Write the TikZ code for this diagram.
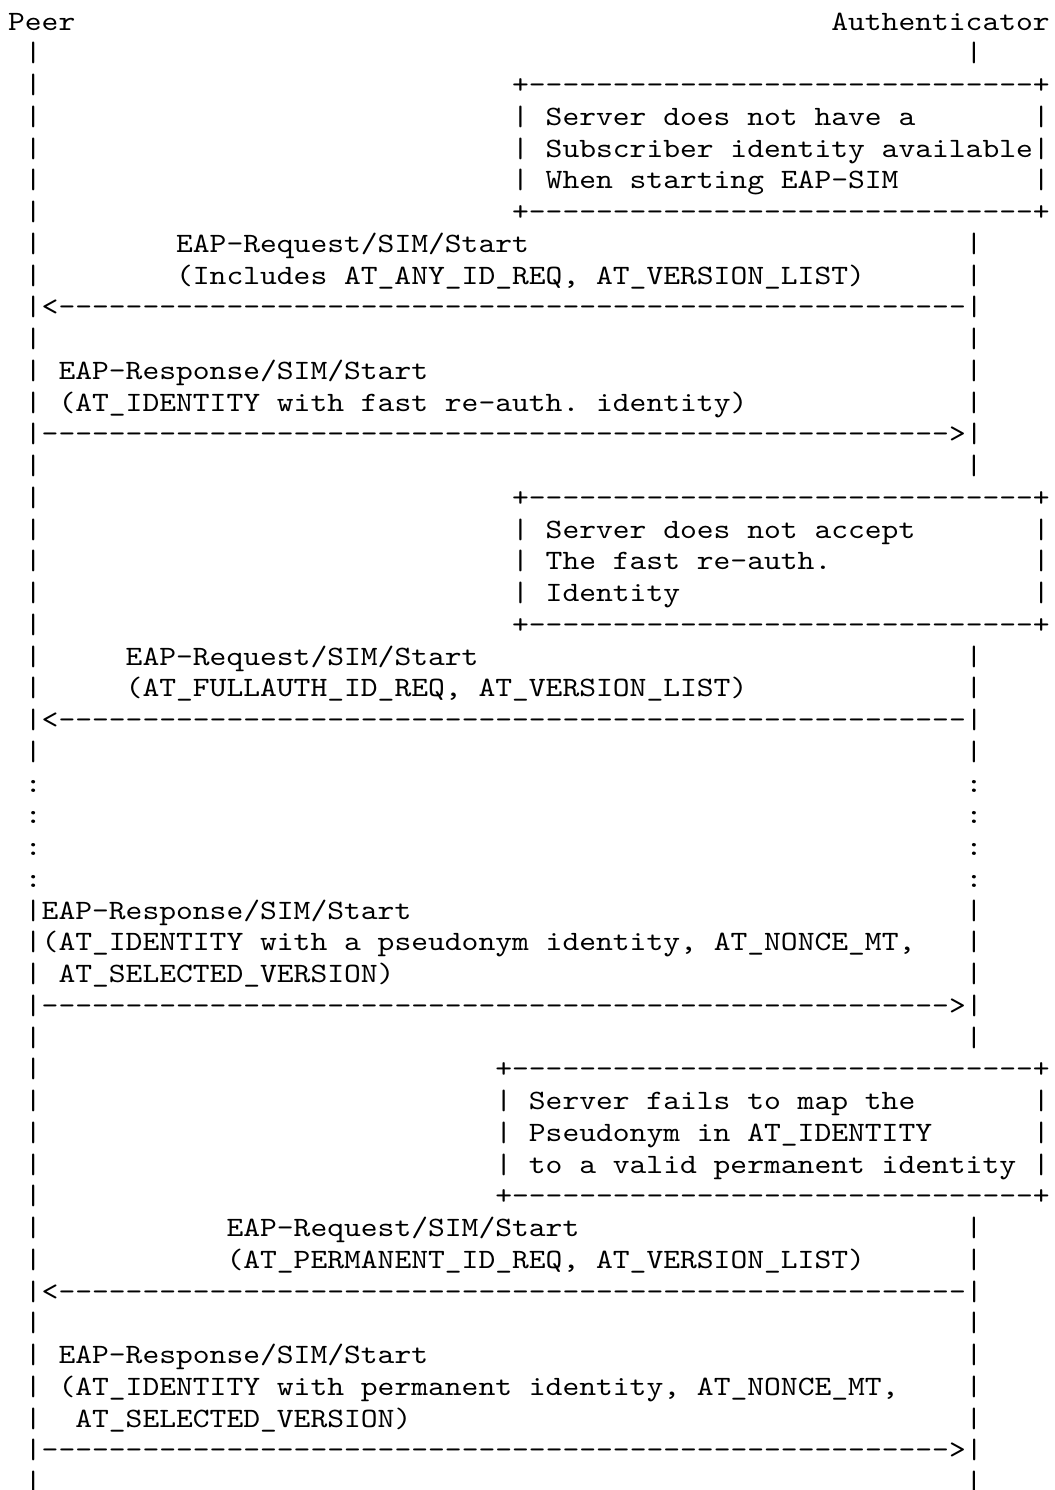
\documentclass[tikz,border=0pt]{standalone}
\usepackage{fontspec}
\setmonofont{lmmono10-regular.otf}[FakeStretch=1.143]
\newcommand\frag[4]{\node[txt] (#1) at ({8.1+16.8*#3},{-(30+31.75*#2)}) {#4};}
\newcommand\lifes[2]{\node[txt] (#1a) at ({8.1+16.8*1},{-(30+31.75*#2)}) {|};\node[txt] (#1b) at ({8.1+16.8*57},{-(30+31.75*#2)}) {|};}
\newcommand\gapdots[2]{\node[txt] (#1a) at ({8.1+16.8*1},{-(30+31.75*#2)}) {:};\node[txt] (#1b) at ({8.1+16.8*57},{-(30+31.75*#2)}) {:};}
\begin{document}
\begin{tikzpicture}[x=0.5pt,y=0.5pt,
  txt/.style={anchor=base west,inner sep=0pt,outer sep=0pt,text=black,
    font=\ttfamily\fontsize{14pt}{16pt}\selectfont}]
\useasboundingbox[fill=white] (0,0) rectangle (1055,-1490);
% row 0
\frag{peer}{0}{0}{Peer}
\frag{auth}{0}{49}{Authenticator}
\lifes{r1}{1}
% box 1
\frag{r2a}{2}{1}{|}
\frag{boxAtop}{2}{30}{+------------------------------+}
\frag{r3a}{3}{1}{|}\frag{r3b}{3}{30}{|}\frag{boxAl1}{3}{32}{Server does not have a}\frag{r3c}{3}{61}{|}
\frag{r4a}{4}{1}{|}\frag{r4b}{4}{30}{|}\frag{boxAl2}{4}{32}{Subscriber identity available}\frag{r4c}{4}{61}{|}
\frag{r5a}{5}{1}{|}\frag{r5b}{5}{30}{|}\frag{boxAl3}{5}{32}{When starting EAP-SIM}\frag{r5c}{5}{61}{|}
\frag{r6a}{6}{1}{|}
\frag{boxAbot}{6}{30}{+------------------------------+}
% message 1
\lifes{r7}{7}\frag{m1l1}{7}{10}{EAP-Request/SIM/Start}
\lifes{r8}{8}\frag{m1l2}{8}{10}{(Includes AT\_ANY\_ID\_REQ, AT\_VERSION\_LIST)}
\frag{m1arrow}{9}{1}{|<------------------------------------------------------|}
\lifes{r10}{10}
% message 2
\lifes{r11}{11}\frag{m2l1}{11}{3}{EAP-Response/SIM/Start}
\lifes{r12}{12}\frag{m2l2}{12}{3}{(AT\_IDENTITY with fast re-auth. identity)}
\frag{m2arrow}{13}{1}{|------------------------------------------------------>|}
\lifes{r14}{14}
% box 2
\frag{r15a}{15}{1}{|}
\frag{boxBtop}{15}{30}{+------------------------------+}
\frag{r16a}{16}{1}{|}\frag{r16b}{16}{30}{|}\frag{boxBl1}{16}{32}{Server does not accept}\frag{r16c}{16}{61}{|}
\frag{r17a}{17}{1}{|}\frag{r17b}{17}{30}{|}\frag{boxBl2}{17}{32}{The fast re-auth.}\frag{r17c}{17}{61}{|}
\frag{r18a}{18}{1}{|}\frag{r18b}{18}{30}{|}\frag{boxBl3}{18}{32}{Identity}\frag{r18c}{18}{61}{|}
\frag{r19a}{19}{1}{|}
\frag{boxBbot}{19}{30}{+------------------------------+}
% message 3
\lifes{r20}{20}\frag{m3l1}{20}{7}{EAP-Request/SIM/Start}
\lifes{r21}{21}\frag{m3l2}{21}{7}{(AT\_FULLAUTH\_ID\_REQ, AT\_VERSION\_LIST)}
\frag{m3arrow}{22}{1}{|<------------------------------------------------------|}
\lifes{r23}{23}
% gap
\gapdots{r24}{24}
\gapdots{r25}{25}
\gapdots{r26}{26}
\gapdots{r27}{27}
% message 4
\frag{m4l1}{28}{1}{|EAP-Response/SIM/Start}\frag{r28b}{28}{57}{|}
\frag{m4l2}{29}{1}{|(AT\_IDENTITY with a pseudonym identity, AT\_NONCE\_MT,}\frag{r29b}{29}{57}{|}
\lifes{r30}{30}\frag{m4l3}{30}{3}{AT\_SELECTED\_VERSION)}
\frag{m4arrow}{31}{1}{|------------------------------------------------------>|}
\lifes{r32}{32}
% box 3
\frag{r33a}{33}{1}{|}
\frag{boxCtop}{33}{29}{+-------------------------------+}
\frag{r34a}{34}{1}{|}\frag{r34b}{34}{29}{|}\frag{boxCl1}{34}{31}{Server fails to map the}\frag{r34c}{34}{61}{|}
\frag{r35a}{35}{1}{|}\frag{r35b}{35}{29}{|}\frag{boxCl2}{35}{31}{Pseudonym in AT\_IDENTITY}\frag{r35c}{35}{61}{|}
\frag{r36a}{36}{1}{|}\frag{r36b}{36}{29}{|}\frag{boxCl3}{36}{31}{to a valid permanent identity}\frag{r36c}{36}{61}{|}
\frag{r37a}{37}{1}{|}
\frag{boxCbot}{37}{29}{+-------------------------------+}
% message 5
\lifes{r38}{38}\frag{m5l1}{38}{13}{EAP-Request/SIM/Start}
\lifes{r39}{39}\frag{m5l2}{39}{13}{(AT\_PERMANENT\_ID\_REQ, AT\_VERSION\_LIST)}
\frag{m5arrow}{40}{1}{|<------------------------------------------------------|}
\lifes{r41}{41}
% message 6
\lifes{r42}{42}\frag{m6l1}{42}{3}{EAP-Response/SIM/Start}
\lifes{r43}{43}\frag{m6l2}{43}{3}{(AT\_IDENTITY with permanent identity, AT\_NONCE\_MT,}
\lifes{r44}{44}\frag{m6l3}{44}{4}{AT\_SELECTED\_VERSION)}
\frag{m6arrow}{45}{1}{|------------------------------------------------------>|}
\lifes{r46}{46}
\end{tikzpicture}
\end{document}
